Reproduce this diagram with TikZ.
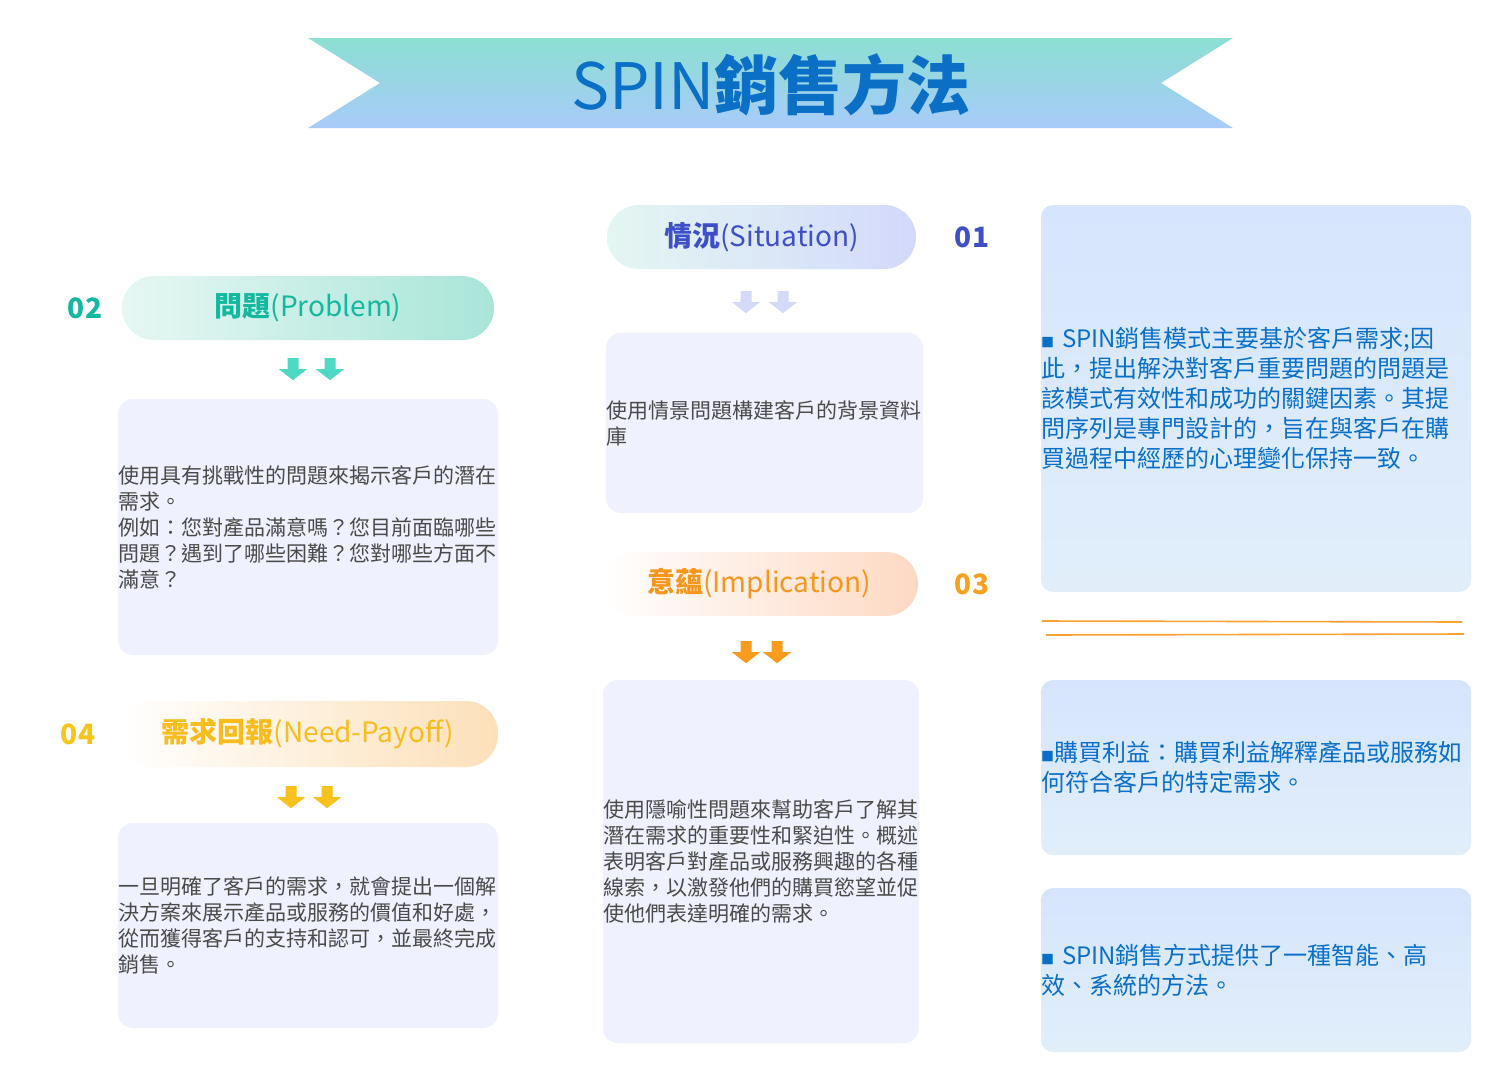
\documentclass[tikz,border=0pt]{standalone}
\usepackage{fontspec}
\setmainfont{Noto Sans CJK TC}
\usepackage{tikz}

\definecolor{bantop}{HTML}{8CDFD2}
\definecolor{banbot}{HTML}{A8CBFA}
\definecolor{titleblue}{HTML}{0B6FC6}
\definecolor{probtxt}{HTML}{14B89F}
\definecolor{probarr}{HTML}{4FD8C4}
\definecolor{probL}{HTML}{E6F7F3}
\definecolor{probR}{HTML}{A9E5D9}
\definecolor{sittxt}{HTML}{3E4FC8}
\definecolor{sitarr}{HTML}{D5DAFB}
\definecolor{sitL}{HTML}{E4F6F2}
\definecolor{sitR}{HTML}{D3D9FB}
\definecolor{impltxt}{HTML}{F7961D}
\definecolor{implnum}{HTML}{F7A11C}
\definecolor{implarr}{HTML}{F99B1C}
\definecolor{implR}{HTML}{FDD9C3}
\definecolor{needtxt}{HTML}{F9BC1E}
\definecolor{neednum}{HTML}{F9C41A}
\definecolor{needarr}{HTML}{F9C11C}
\definecolor{needR}{HTML}{FCE0B9}
\definecolor{boxfill}{HTML}{EFF2FE}
\definecolor{bodygray}{HTML}{4A4A4A}
\definecolor{notetop}{HTML}{D6E5FD}
\definecolor{notebot}{HTML}{E1EEFA}
\definecolor{noteblue}{HTML}{0A6FC8}
\definecolor{lineorange}{HTML}{F8A233}

\tikzset{
  pill/.style={rounded corners=32pt, minimum height=64pt, inner sep=0pt, font=\fontsize{28}{32}\selectfont},
  stepnum/.style={inner sep=0pt, font=\bfseries\fontsize{28}{32}\selectfont},
  infobox/.style={fill=boxfill, rounded corners=15pt, inner sep=0pt, align=left, text=bodygray, font=\fontsize{21}{26}\selectfont},
  notebox/.style={top color=notetop, bottom color=notebot, rounded corners=12pt, inner sep=0pt, align=left, text=noteblue, font=\fontsize{24}{30}\selectfont},
  dnarrow/.pic={\fill[#1] (-5.5,0) -- (5.5,0) -- (5.5,-11) -- (14,-11) -- (0,-22) -- (-14,-11) -- (-5.5,-11) -- cycle;}
}
\newcommand{\sqbul}{{\fontsize{13}{13}\selectfont ■}}

\begin{document}
\begin{tikzpicture}[x=1pt,y=1pt,yscale=-1]
\useasboundingbox (0,0) rectangle (1509,1090);
\fill[white] (0,0) rectangle (1509,1090);

%Shape: Ribbon banner
\path[top color=bantop, bottom color=banbot] (308,38) -- (1233,38) -- (1161,83) -- (1233,128) -- (308,128) -- (380,83) -- cycle;
% Title
\node (title) at (771,85) [text=titleblue, font=\fontsize{64}{72}\selectfont] {SPIN{\bfseries 銷售方法}};

% Step pills
\node (sit) at (761.5,237) [pill, minimum width=309pt, left color=sitL, right color=sitR, text=sittxt] {{\bfseries 情況}(Situation)};
\node (prob) at (308,308) [pill, minimum width=372pt, left color=probL, right color=probR, text=probtxt] {{\bfseries 問題}(Problem)};
\node (impl) at (759,584) [pill, minimum width=318pt, left color=white, right color=implR, text=impltxt] {{\bfseries 意蘊}(Implication)};
\node (need) at (308,734) [pill, minimum width=380pt, minimum height=66pt, left color=white, right color=needR, text=needtxt] {{\bfseries 需求回報}(Need-Payoff)};

% Step numbers
\node (n01) at (972,237) [stepnum, text=sittxt] {01};
\node (n02) at (85,308) [stepnum, text=probtxt] {02};
\node (n03) at (972,584) [stepnum, text=implnum] {03};
\node (n04) at (78,734) [stepnum, text=neednum] {04};

% Down arrows
\pic at ([xshift=-15.5pt,yshift=22pt]sit.south) {dnarrow=sitarr};
\pic at ([xshift=21.5pt,yshift=22pt]sit.south) {dnarrow=sitarr};
\pic at ([xshift=-15pt,yshift=18pt]prob.south) {dnarrow=probarr};
\pic at ([xshift=22pt,yshift=18pt]prob.south) {dnarrow=probarr};
\pic at ([xshift=-13pt,yshift=25pt]impl.south) {dnarrow=implarr};
\pic at ([xshift=18pt,yshift=25pt]impl.south) {dnarrow=implarr};
\pic at ([xshift=-17pt,yshift=19pt]need.south) {dnarrow=needarr};
\pic at ([xshift=19pt,yshift=19pt]need.south) {dnarrow=needarr};

% Text boxes
\node (sitbox) at (764.5,423) [infobox, text width=317pt, minimum height=180pt] {使用情景問題構建客戶的背景資料\\庫};
\node (probbox) at (308,527) [infobox, text width=380pt, minimum height=256pt] {使用具有挑戰性的問題來揭示客戶的潛在\\需求。\\例如：您對產品滿意嗎？您目前面臨哪些\\問題？遇到了哪些困難？您對哪些方面不\\滿意？};
\node (implbox) at (761,861.5) [infobox, text width=316pt, minimum height=363pt] {使用隱喻性問題來幫助客戶了解其\\潛在需求的重要性和緊迫性。概述\\表明客戶對產品或服務興趣的各種\\線索，以激發他們的購買慾望並促\\使他們表達明確的需求。};
\node (needbox) at (308,925.5) [infobox, text width=380pt, minimum height=205pt] {一旦明確了客戶的需求，就會提出一個解\\決方案來展示產品或服務的價值和好處，\\從而獲得客戶的支持和認可，並最終完成\\銷售。};

% Notes on the right
\node (note1) at (1256,398.5) [notebox, text width=430pt, minimum height=387pt] {\sqbul{} SPIN銷售模式主要基於客戶需求;因\\此，提出解決對客戶重要問題的問題是\\該模式有效性和成功的關鍵因素。其提\\問序列是專門設計的，旨在與客戶在購\\買過程中經歷的心理變化保持一致。};
\draw[lineorange, line width=1.6pt] (1042,621) -- (1462,622);
\draw[lineorange, line width=1.6pt] (1046,635) -- (1464,634);
\node (note2) at (1256,767.5) [notebox, text width=430pt, minimum height=175pt] {\sqbul 購買利益：購買利益解釋產品或服務如\\何符合客戶的特定需求。};
\node (note3) at (1256,970) [notebox, text width=430pt, minimum height=164pt] {\sqbul{} SPIN銷售方式提供了一種智能、高\\效、系統的方法。};

\end{tikzpicture}
\end{document}
